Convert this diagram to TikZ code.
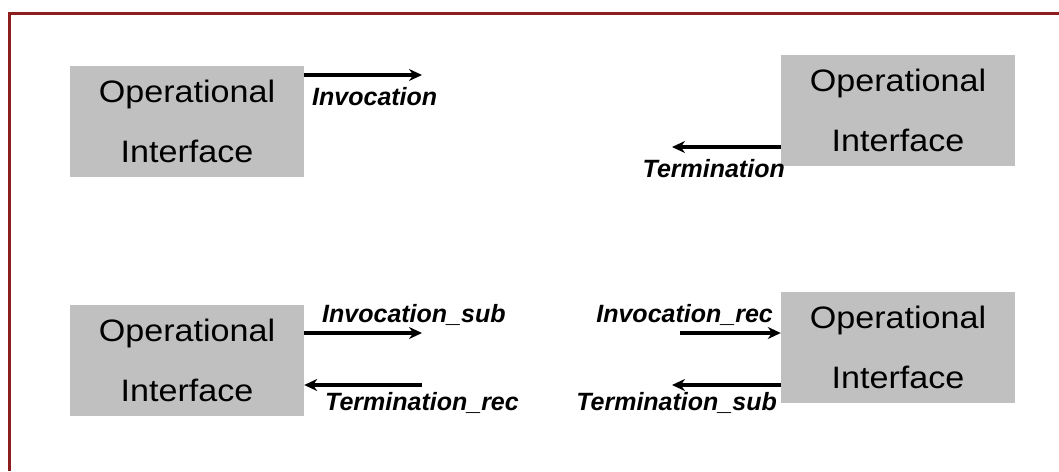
\documentclass[tikz,border=0pt]{standalone}
\usepackage{fontspec}
\setmainfont{Liberation Sans}
\newfontfamily\boxfont[FakeStretch=1.1]{Liberation Sans}
\usetikzlibrary{arrows.meta}
\definecolor{framered}{RGB}{140,30,30}
\definecolor{boxgray}{RGB}{192,192,192}

\begin{document}
\begin{tikzpicture}[x=1pt, y=-1pt, >={Stealth[length=13pt,width=12pt]},
  opbox/.style={fill=boxgray, minimum width=234pt, minimum height=111pt, inner sep=0pt, align=center, font=\boxfont\fontsize{31}{60}\selectfont},
  msg/.style={inner sep=0pt, font=\fontsize{25}{30}\selectfont\bfseries\itshape},
  flow/.style={->, line width=3.5pt}]
\useasboundingbox (0,0) rectangle (1059,471);
\draw[framered, line width=3pt] (9,471) -- (9,13) -- (1059,13);

% interfaces
\node[opbox] (b1) at (187,121.5) {Operational\\Interface};
\node[opbox] (b2) at (898,110) {Operational\\Interface};
\node[opbox] (b3) at (187,360) {Operational\\Interface};
\node[opbox] (b4) at (898,347.5) {Operational\\Interface};

% free ends of the arrows
\coordinate (inv) at (422,75);
\coordinate (term) at (672,147);
\coordinate (invsub) at (422,333);
\coordinate (termrec) at (422,385);
\coordinate (invrec) at (680,333);
\coordinate (termsub) at (672,385);

\draw[flow] (b1.east |- inv) -- (inv);
\draw[flow] (b2.west |- term) -- (term);
\draw[flow] (b3.east |- invsub) -- (invsub);
\draw[flow] (termrec) -- (b3.east |- termrec);
\draw[flow] (invrec) -- (b4.west |- invrec);
\draw[flow] (b4.west |- termsub) -- (termsub);

% labels
\node[msg, anchor=base west] (linv) at (312,105) {Invocation};
\node[msg, anchor=base east] (lterm) at (785,177) {Termination};
\node[msg, anchor=base west] (linvsub) at (322,322) {Invocation\_sub};
\node[msg, anchor=base west] (ltermrec) at (325,410) {Termination\_rec};
\node[msg, anchor=base east] (linvrec) at (773,322) {Invocation\_rec};
\node[msg, anchor=base east] (ltermsub) at (777,410) {Termination\_sub};
\end{tikzpicture}
\end{document}
